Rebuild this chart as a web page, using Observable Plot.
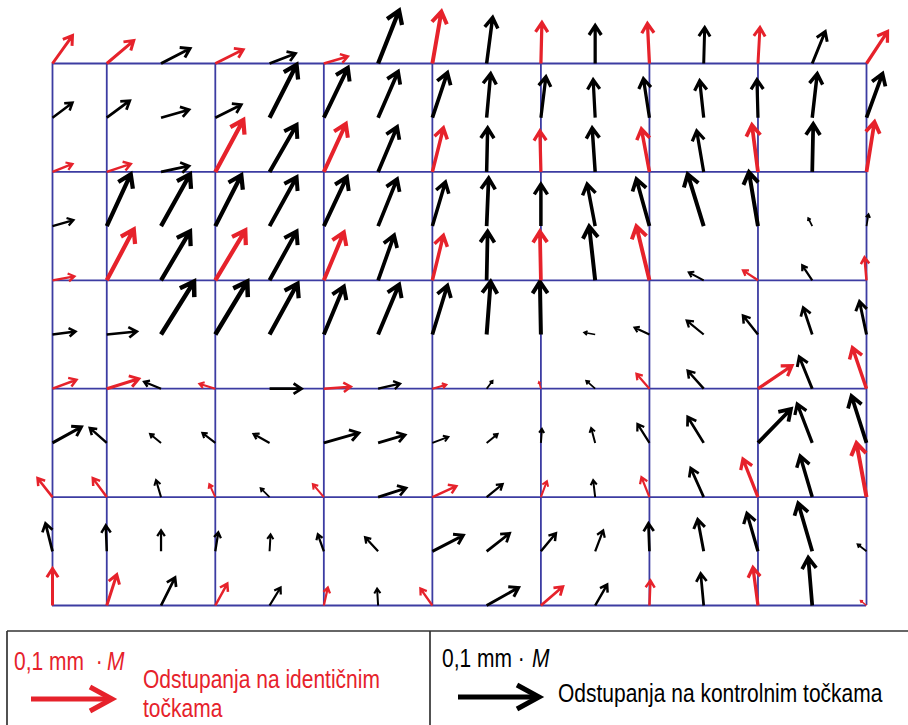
<!DOCTYPE html>
<html>
<head>
<meta charset="utf-8">
<script src="https://cdn.jsdelivr.net/npm/d3@7"></script>
<script src="https://cdn.jsdelivr.net/npm/@observablehq/plot@0.6"></script>
<style>
  html, body { margin: 0; padding: 0; background: #fff; }
  #wrap { position: relative; width: 908px; height: 725px; overflow: hidden; }
  #legend { position: absolute; left: 0; top: 625px; }
  .lg { font-family: "Liberation Sans", Arial, sans-serif; font-size: 25px; }
</style>
</head>
<body>
<div id="wrap"></div>
<script>
// Lattice: 16 columns (i = 0..15) x 11 rows (j = 0..10, top to bottom)
const cols = d3.range(16);
const rows = d3.range(11);
// Grid lines of the sheet division (lattice indices)
const gridCols = [0, 1, 3, 5, 7, 9, 11, 13, 15];
const gridRows = [0, 2, 4, 6, 8, 10];
// Displacement components per lattice point (units: 1/900 mm·M; the legend arrow of 0.1 mm·M ≈ 90 units)
// positive dx = right, negative dy = up
const dxRows = [
  [20, 27, 29, 28, 26, 24, 21, 9, 6, 1, 0, -2, 1, 2, 13, 21],
  [20, 23, 28, 26, 27, 24, 20, 15, 4, 5, -2, -6, -4, -1, 5, 16],
  [20, 24, 28, 28, 27, 22, 19, 11, 1, -1, -3, -8, -7, -6, 1, 8],
  [21, 24, 29, 26, 27, 23, 19, 13, 2, 0, -8, -13, -16, -9, -4, 2],
  [22, 27, 29, 30, 27, 20, 16, 11, 1, -1, -6, -13, -15, -15, -10, -2],
  [23, 30, 33, 32, 28, 20, 21, 15, 4, -1, -11, -15, -17, -15, -9, -7],
  [24, 32, -17, -16, 32, 27, 22, 14, 6, -2, -9, -13, -16, 34, -13, -14],
  [29, -17, -11, -13, -16, 35, 27, 16, 11, 1, -4, -12, -16, 33, -15, -15],
  [-15, -14, -5, -6, -9, -11, 28, 24, 16, 6, -2, -8, -13, -15, -12, -10],
  [-7, -1, 0, 3, 1, -6, -13, 31, 23, 15, 8, -1, -6, -11, -14, -9],
  [0, 10, 14, 12, 11, 4, -1, -12, 32, 22, 12, 1, -3, -5, -4, -6]
];
const dyRows = [
  [-28, -23, -15, -14, -10, -7, -53, -52, -46, -41, -38, -40, -36, -36, -32, -32],
  [-15, -17, -8, -13, -53, -50, -46, -45, -44, -41, -38, -39, -37, -38, -44, -44],
  [-8, -8, -6, -52, -47, -48, -45, -44, -44, -41, -44, -43, -41, -47, -48, -50],
  [-6, -52, -52, -51, -49, -49, -47, -44, -48, -42, -42, -47, -52, -54, -8, -12],
  [-4, -51, -49, -50, -49, -48, -45, -45, -49, -49, -54, -54, -8, -10, -15, -23],
  [-3, -3, -53, -53, -51, -48, -50, -49, -53, -53, -2, -7, -14, -19, -27, -33],
  [-9, -10, -7, -5, 0, -2, -5, -4, -8, -7, -8, -15, -18, -23, -32, -41],
  [-16, -15, -9, -10, -9, -10, -8, -6, -9, -14, -15, -19, -26, -34, -39, -47],
  [-19, -19, -17, -13, -9, -13, -9, -11, -13, -16, -17, -20, -29, -38, -41, -54],
  [-28, -26, -21, -19, -17, -17, -14, -16, -18, -18, -21, -28, -32, -38, -48, -7],
  [-37, -31, -28, -22, -18, -18, -17, -17, -18, -19, -21, -25, -32, -38, -48, -5]
];
const UNITS_PER_STEP = 54.27; // displacement units per lattice step (drawing scale)

const RED = "#e6222b";
const BLUE = "#3c3ca2";

const vectors = [];
for (const j of rows) for (const i of cols) {
  const dx = dxRows[j][i], dy = dyRows[j][i];
  const len = Math.hypot(dx, dy);
  vectors.push({
    i, j, dx, dy,
    identical: gridCols.includes(i) && gridRows.includes(j),
    sw: Math.round((1.2 + 0.052 * len) * 4) / 4
  });
}

// one arrow mark per (colour, stroke width) so heads scale with the line weight
const arrowMarks = [];
for (const identical of [false, true]) {
  const widths = Array.from(new Set(vectors.map(d => d.sw))).sort((a, b) => a - b);
  for (const w of widths) {
    const subset = vectors.filter(d => d.identical === identical && d.sw === w);
    if (!subset.length) continue;
    arrowMarks.push(Plot.arrow(subset, {
      x1: "i", y1: "j",
      x2: d => d.i + d.dx / UNITS_PER_STEP,
      y2: d => d.j + d.dy / UNITS_PER_STEP,
      stroke: identical ? RED : "#000",
      strokeWidth: w,
      headLength: 5.2,
      headAngle: 66,
      strokeLinecap: "butt",
      strokeLinejoin: "miter",
      strokeMiterlimit: 4
    }));
  }
}

const chart = Plot.plot({
  width: 908,
  height: 625,
  marginLeft: 52,
  marginRight: 42,
  marginTop: 63,
  marginBottom: 20,
  x: {domain: [0, 15], axis: null},
  y: {domain: [0, 10], reverse: true, axis: null},
  marks: [
    Plot.ruleX(gridCols, {x: d => d, y1: 0, y2: 10, stroke: BLUE, strokeWidth: 1.8}),
    Plot.ruleY(gridRows, {y: d => d, x1: 0, x2: 15, stroke: BLUE, strokeWidth: 1.8}),
    ...arrowMarks
  ]
});
chart.style.position = "absolute";
chart.style.left = "0px";
chart.style.top = "0px";
document.getElementById("wrap").appendChild(chart);

// Legend (below the chart); narrow type emulated by horizontal scaling
const N = 0.84;
const legend = `
<svg id="legend" width="908" height="100" xmlns="http://www.w3.org/2000/svg">
  <g stroke="#333" stroke-width="1.7" fill="none">
    <line x1="7" y1="6" x2="908" y2="6"/>
    <line x1="7" y1="6" x2="7" y2="100"/>
    <line x1="430" y1="6" x2="430" y2="100"/>
  </g>
  <g class="lg" fill="${RED}">
    <text transform="translate(14,45) scale(${N},1)">0,1 mm &#160;·</text>
    <text transform="translate(107,45) scale(${N},1)" font-style="italic">M</text>
    <text transform="translate(143,63) scale(${N},1)">Odstupanja na identičnim</text>
    <text transform="translate(143,92) scale(${N},1)">točkama</text>
  </g>
  <g stroke="${RED}" stroke-width="5" fill="none" stroke-linejoin="miter">
    <line x1="31" y1="74" x2="111" y2="74"/>
    <polyline points="90,62 112,74 90,86"/>
  </g>
  <g class="lg" fill="#000">
    <text transform="translate(442,42) scale(${N},1)">0,1 mm ·</text>
    <text transform="translate(532,42) scale(${N},1)" font-style="italic">M</text>
    <text transform="translate(558,77) scale(${N},1)">Odstupanja na kontrolnim točkama</text>
  </g>
  <g stroke="#000" stroke-width="5" fill="none" stroke-linejoin="miter">
    <line x1="458" y1="72" x2="538" y2="72"/>
    <polyline points="517,60 539,72 517,84"/>
  </g>
</svg>`;
document.getElementById("wrap").insertAdjacentHTML("beforeend", legend);
</script>
</body>
</html>
